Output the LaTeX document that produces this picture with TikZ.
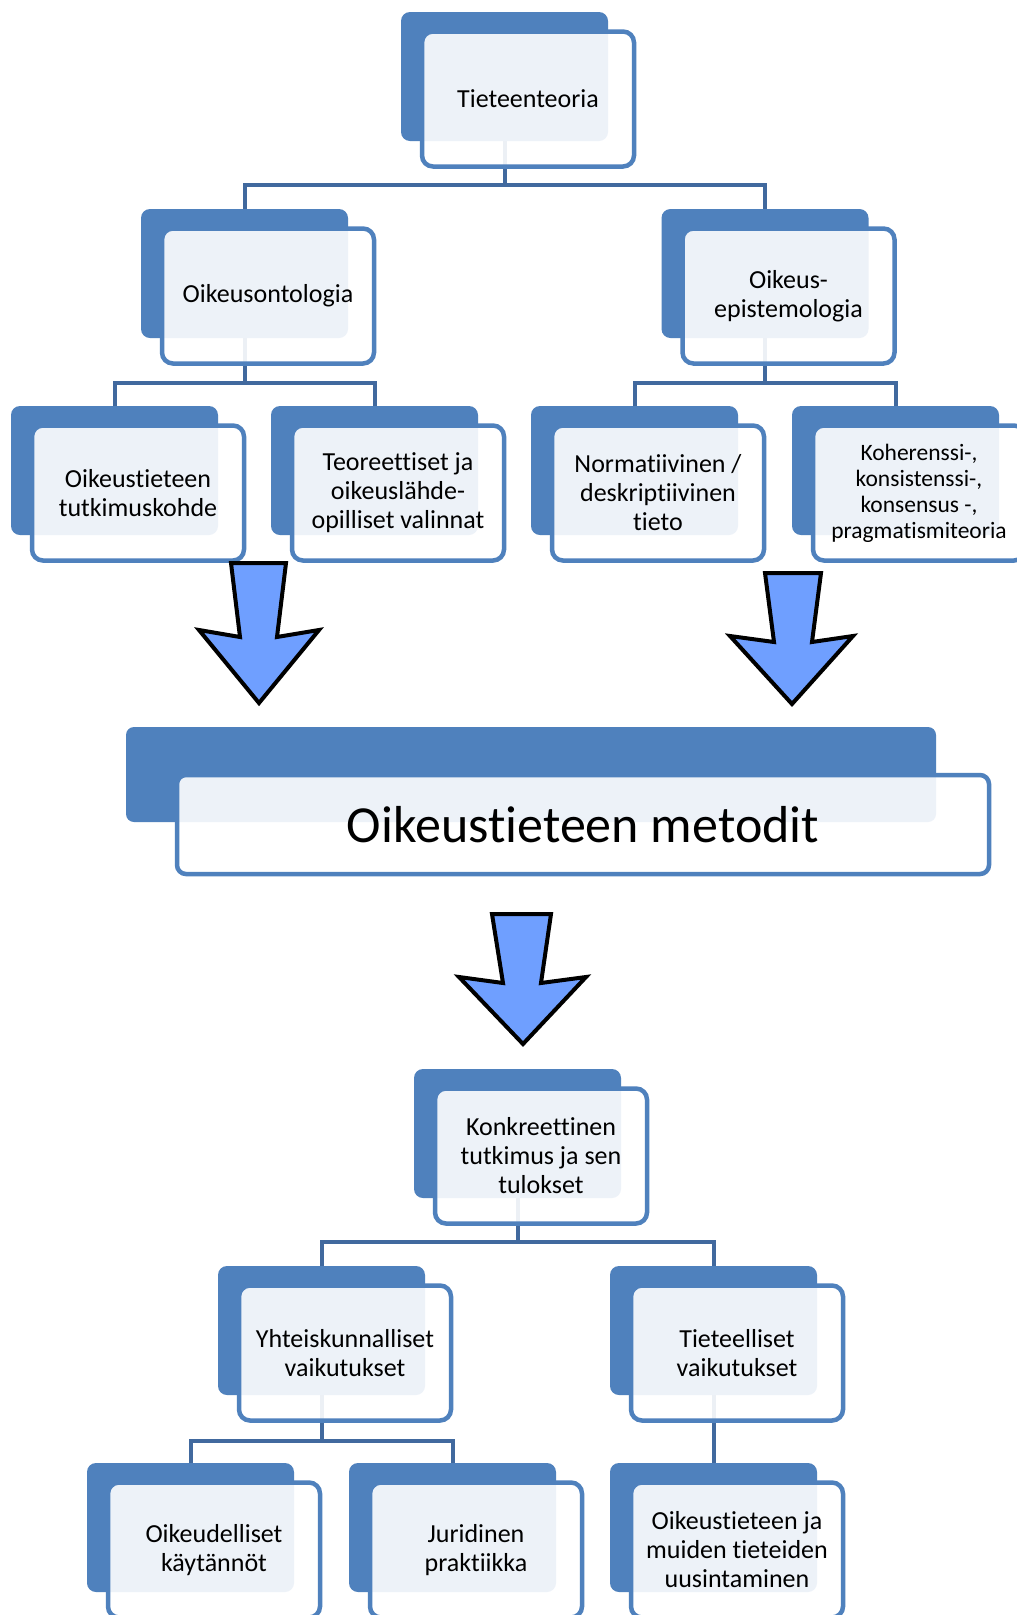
\documentclass[tikz,border=0pt]{standalone}
\usepackage{fontspec}
\setmainfont{Carlito}[Ligatures={NoCommon,NoRequired,NoContextual}]
\usetikzlibrary{calc}
\definecolor{dkblue}{HTML}{4F81BD}
\definecolor{busblue}{HTML}{41699E}
\definecolor{arrowblue}{HTML}{6F9FFF}
\tikzset{
 backbox/.style={fill=dkblue, rounded corners=9pt, minimum width=207pt, minimum height=129pt, inner sep=0pt, outer sep=0pt, anchor=north west},
 frontbox/.style={draw=dkblue, line width=4.5pt, fill=white, fill opacity=0.9, text opacity=1, rounded corners=11pt, minimum width=212pt, minimum height=135pt, inner sep=0pt, outer sep=0pt, anchor=north west, align=center, font=\fontsize{26}{29}\selectfont},
 bigback/.style={backbox, minimum width=810pt, minimum height=95pt, rounded corners=8pt},
 bigfront/.style={frontbox, minimum width=812pt, minimum height=99pt, rounded corners=9pt, font=\fontsize{52}{60}\selectfont},
 conn/.style={draw=busblue, line width=4pt},
 bigarrow/.style={fill=arrowblue, draw=black, line width=4pt, line join=miter}
}
\begin{document}
\begin{tikzpicture}[x=1pt,y=-1pt]
\useasboundingbox (0,0) rectangle (1017,1615);
\fill[white] (0,0) rectangle (1017,1615);
% back boxes
\node[backbox] (t0) at (401,12) {};
\node[backbox] (oo0) at (141,209) {};
\node[backbox] (oe0) at (661.5,209) {};
\node[backbox] (la0) at (11,406) {};
\node[backbox] (lb0) at (271,406) {};
\node[backbox] (lc0) at (531,406) {};
\node[backbox] (ld0) at (792,406) {};
\node[bigback] (m0) at (126,727) {};
\node[backbox] (k0) at (414,1069) {};
\node[backbox] (y0) at (218,1266) {};
\node[backbox] (ti0) at (610,1266) {};
\node[backbox] (od0) at (87,1463) {};
\node[backbox] (ju0) at (349,1463) {};
\node[backbox] (om0) at (610,1463) {};
% connectors
\draw[conn] (t0.south) -- ++(0,44) coordinate (b1);
\draw[conn] (oo0.north) |- (b1) -| (oe0.north);
\draw[conn] (oo0.south) -- ++(0,45) coordinate (b2);
\draw[conn] (la0.north) |- (b2) -| (lb0.north);
\draw[conn] (oe0.south) -- ++(0,45) coordinate (b3);
\draw[conn] (lc0.north) |- (b3) -| (ld0.north);
\draw[conn] (k0.south) -- ++(0,44) coordinate (b4);
\draw[conn] (y0.north) |- (b4) -| (ti0.north);
\draw[conn] (y0.south) -- ++(0,46) coordinate (b5);
\draw[conn] (od0.north) |- (b5) -| (ju0.north);
\draw[conn] (ti0.south) -- (om0.north);
% front boxes
\node[frontbox] (t) at ($(t0.north west)+(21,19.5)$) {Tieteenteoria};
\node[frontbox] (oo) at ($(oo0.north west)+(21,19.5)$) {Oikeusontologia};
\node[frontbox] (oe) at ($(oe0.north west)+(21,19.5)$) {Oikeus-\\epistemologia};
\node[frontbox] (la) at ($(la0.north west)+(21,19.5)$) {Oikeustieteen\\tutkimuskohde};
\node[frontbox] (lb) at ($(lb0.north west)+(21,19.5)$) {Teoreettiset ja\\oikeuslähde-\\opilliset valinnat};
\node[frontbox] (lc) at ($(lc0.north west)+(21,19.5)$) {Normatiivinen /\\deskriptiivinen\\tieto};
\node[frontbox, font=\fontsize{23.5}{26}\selectfont] (ld) at ($(ld0.north west)+(21,19.5)$) {Koherenssi-,\\konsistenssi-,\\konsensus -,\\pragmatismiteoria};
\node[bigfront] (m) at ($(m0.north west)+(51,48)$) {Oikeustieteen metodit};
\node[frontbox] (k) at ($(k0.north west)+(21,19.5)$) {Konkreettinen\\tutkimus ja sen\\tulokset};
\node[frontbox] (y) at ($(y0.north west)+(21,19.5)$) {Yhteiskunnalliset\\vaikutukset};
\node[frontbox] (ti) at ($(ti0.north west)+(21,19.5)$) {Tieteelliset\\vaikutukset};
\node[frontbox] (od) at ($(od0.north west)+(21,19.5)$) {Oikeudelliset\\käytännöt};
\node[frontbox] (ju) at ($(ju0.north west)+(21,19.5)$) {Juridinen\\praktiikka};
\node[frontbox] (om) at ($(om0.north west)+(21,19.5)$) {Oikeustieteen ja\\muiden tieteiden\\uusintaminen};
% block arrows
\draw[bigarrow] (231,563) -- (286,563) -- (277,637) -- (319,630) -- (259,703) -- (199,630) -- (240,637) -- cycle;
\draw[bigarrow] (765,573) -- (821,573) -- (812,642) -- (853,636) -- (792,704) -- (730,636) -- (774,642) -- cycle;
\draw[bigarrow] (492,914) -- (551,914) -- (541,983) -- (586,977) -- (523,1044) -- (459,977) -- (503,983) -- cycle;
\end{tikzpicture}
\end{document}
